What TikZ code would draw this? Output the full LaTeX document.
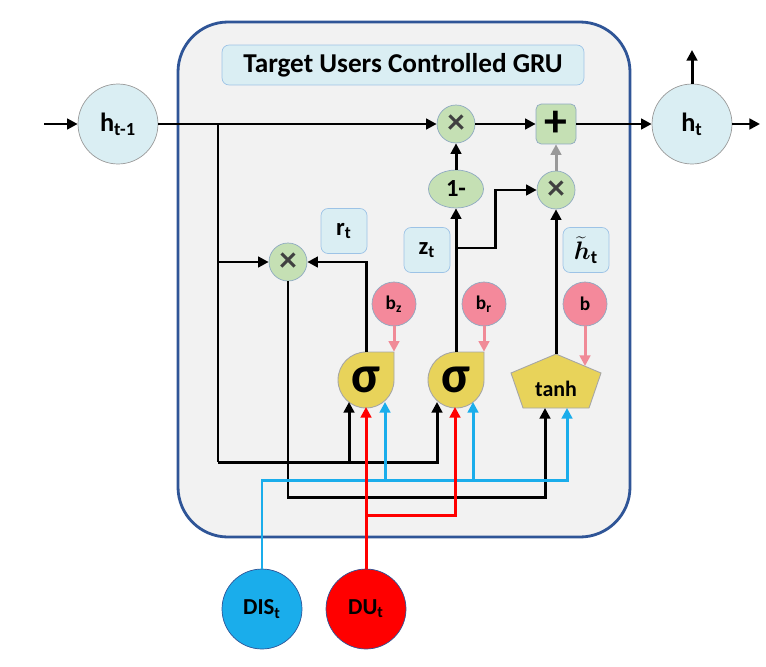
\documentclass[tikz,border=0pt]{standalone}
\usepackage{bm}
\usepackage{fontspec}
\setmainfont{Carlito}
\usetikzlibrary{arrows.meta,shapes.geometric}

\definecolor{cellline}{HTML}{2F5597}
\definecolor{cellfill}{HTML}{F2F2F2}
\definecolor{tagfill}{HTML}{DAEEF3}
\definecolor{tagline}{HTML}{9DC3E6}
\definecolor{opfill}{HTML}{C5E0B4}
\definecolor{opline}{HTML}{8EA9C1}
\definecolor{gatefill}{HTML}{E8D35A}
\definecolor{biasfill}{HTML}{F4899B}
\definecolor{biasarrow}{HTML}{F08A97}
\definecolor{disblue}{HTML}{1AADEB}
\definecolor{dured}{HTML}{FF0000}

\tikzset{
  cell/.style={draw=cellline,fill=cellfill,line width=1.6pt,rounded corners=1cm},
  tag/.style={draw=tagline,fill=tagfill,rounded corners=4pt,minimum width=0.92cm,
    minimum height=0.9cm,inner sep=1pt,font=\bfseries\fontsize{14}{16}\selectfont},
  state/.style={circle,draw=gray!80,fill=tagfill,minimum size=1.6cm,inner sep=0pt,
    font=\bfseries\fontsize{15}{18}\selectfont},
  op/.style={circle,draw=opline,fill=opfill,minimum size=0.76cm,inner sep=0pt,
    text=black!75,font=\bfseries\fontsize{20}{20}\selectfont},
  bias/.style={circle,draw=opline,fill=biasfill,minimum size=0.88cm,inner sep=0pt,
    font=\bfseries\fontsize{11}{13}\selectfont},
  gate/.style={draw=gray!70,fill=gatefill,line width=0.5pt},
  sigma/.style={circle,minimum size=1.12cm,inner sep=0pt,
    font=\bfseries\fontsize{30}{30}\selectfont},
  source/.style={circle,draw=cellline,minimum size=1.6cm,inner sep=0pt,
    font=\bfseries\fontsize{13}{15}\selectfont},
  wire/.style={line width=1.7pt,-{Triangle[length=6pt,width=6pt]}},
  line/.style={line width=1.7pt},
  gwire/.style={wire,draw=gray!80},
  pwire/.style={wire,draw=biasarrow},
  bwire/.style={wire,draw=disblue},
  rwire/.style={wire,draw=dured}
}

\begin{document}
\begin{tikzpicture}[x=0.02cm,y=-0.02cm]
\useasboundingbox (0,0) rectangle (766,666);
   %%%%%%%%%%%%%%%%% cell %%%%%%%%%%%%%%%%%%%
\draw[cell] (178,22) rectangle (630,537);
\node[tag,minimum width=7.24cm,minimum height=0.8cm,
   font=\bfseries\fontsize{15.5}{17}\selectfont] (title) at (403,65)
   {Target Users Controlled GRU};

   %%%%%%%%%%%%%%%%% vertices %%%%%%%%%%%%%%%%%%%
\node[state] (hp) at (118,124) {h\textsubscript{t-1}};
\node[state] (hn) at (692,124) {h\textsubscript{t}};

\node[op] (mx1) at (456,124) {×};
\node[op,rectangle,rounded corners=3pt,minimum size=0.8cm,text=black,
   font=\bfseries\fontsize{26}{26}\selectfont] (pls) at (556,124) {+};
\node[op,ellipse,minimum width=1.1cm,minimum height=0.76cm,text=black,
   font=\bfseries\fontsize{14}{16}\selectfont] (one) at (456,189) {1-};
\node[op] (mx2) at (556,190) {×};
\node[op] (mxr) at (288,262) {×};

% sigma gates: circle with a square corner top right
\foreach \name/\x in {sgz/366,sgr/456}
 {\filldraw[gate] (\x,352) -| (\x+28,380) arc[start angle=0,end angle=-270,radius=0.56cm] -- cycle;
  \node[sigma] (\name) at (\x,380) {σ};}
\filldraw[gate] (556,354) -- (601,373) -- (589,408) -- (523,408) -- (511,373) -- cycle;
\node[font=\bfseries\fontsize{12.5}{14}\selectfont] (tnh) at (556,389) {tanh};

\node[tag] (rt) at (344,231) {r\textsubscript{t}};
\node[tag] (zt) at (427,250) {z\textsubscript{t}};
\node[tag,font=\bfseries\fontsize{15}{17}\selectfont] (ht) at (586,250)
   {$\widetilde{\bm{h}}$\textsubscript{t}};

\foreach \name/\x/\label in {bz/394/b\textsubscript{z},br/484/b\textsubscript{r},bb/585/b}
 {\node[bias] (\name) at (\x,304) {\label};}

\node[source,fill=disblue] (dis) at (262,609) {DIS\textsubscript{t}};
\node[source,fill=dured] (du) at (366,609) {DU\textsubscript{t}};

   %%%%%%%%%%%%%%%%% coordinates %%%%%%%%%%%%%%%%%%%
\coordinate (in) at (44,124);
\coordinate (out) at (760,124);
\coordinate (up) at (692,50);
\coordinate (j1) at (218,124);
\coordinate (jb) at (218,462);
\coordinate (zs) at (456,248);
\coordinate (zc) at (495,248);
\coordinate (tt) at (556,354);
\coordinate (tr) at (585,366);
\coordinate (kbus) at (545,497);
\coordinate (bbus) at (567,480);
\coordinate (rj) at (455,515);
% gate inputs  name/x/y
\foreach \n/\x/\y in {zk/349/402,zr/366/407,zb/385/402,rk/437/402,
   rr/455/407,rb/473/402,hk/545/408,hb/567/408}
 {\coordinate (\n) at (\x,\y);}

   %%%%%%%%%%%%%%%%% edges %%%%%%%%%%%%%%%%%%%%%%%
\draw[wire] (in) -- (hp);
\draw[wire] (hp) -- (mx1);
\draw[wire] (mx1) -- (pls);
\draw[wire] (pls) -- (hn);
\draw[wire] (hn) -- (out);
\draw[wire] (hn) -- (up);

\draw[line] (j1) -- (jb);
\draw[wire] (jb) -| (zk);
\draw[wire] (jb) -| (rk);
\draw[wire] (mxr -| j1) -- (mxr);
\draw[wire] (sgz) |- (mxr);
\draw[wire] (mxr) |- (kbus) -- (hk);

\draw[wire] (sgr) -- (one);
\draw[wire] (one) -- (mx1);
\draw[wire] (zs) -- (zc) |- (mx2);
\draw[wire] (tt) -- (mx2);
\draw[gwire] (mx2) -- (pls);

\draw[pwire] (bz) -- (bz |- sgz.north);
\draw[pwire] (br) -- (br |- sgr.north);
\draw[pwire] (bb) -- (tr);

\draw[bwire] (dis) |- (bbus) -- (hb);
\foreach \n in {zb,rb} {\draw[bwire] (\n |- bbus) -- (\n);}

\draw[rwire] (du) -- (zr);
\draw[rwire] (zr |- rj) -- (rj) -- (rr);
\end{tikzpicture}
\end{document}
